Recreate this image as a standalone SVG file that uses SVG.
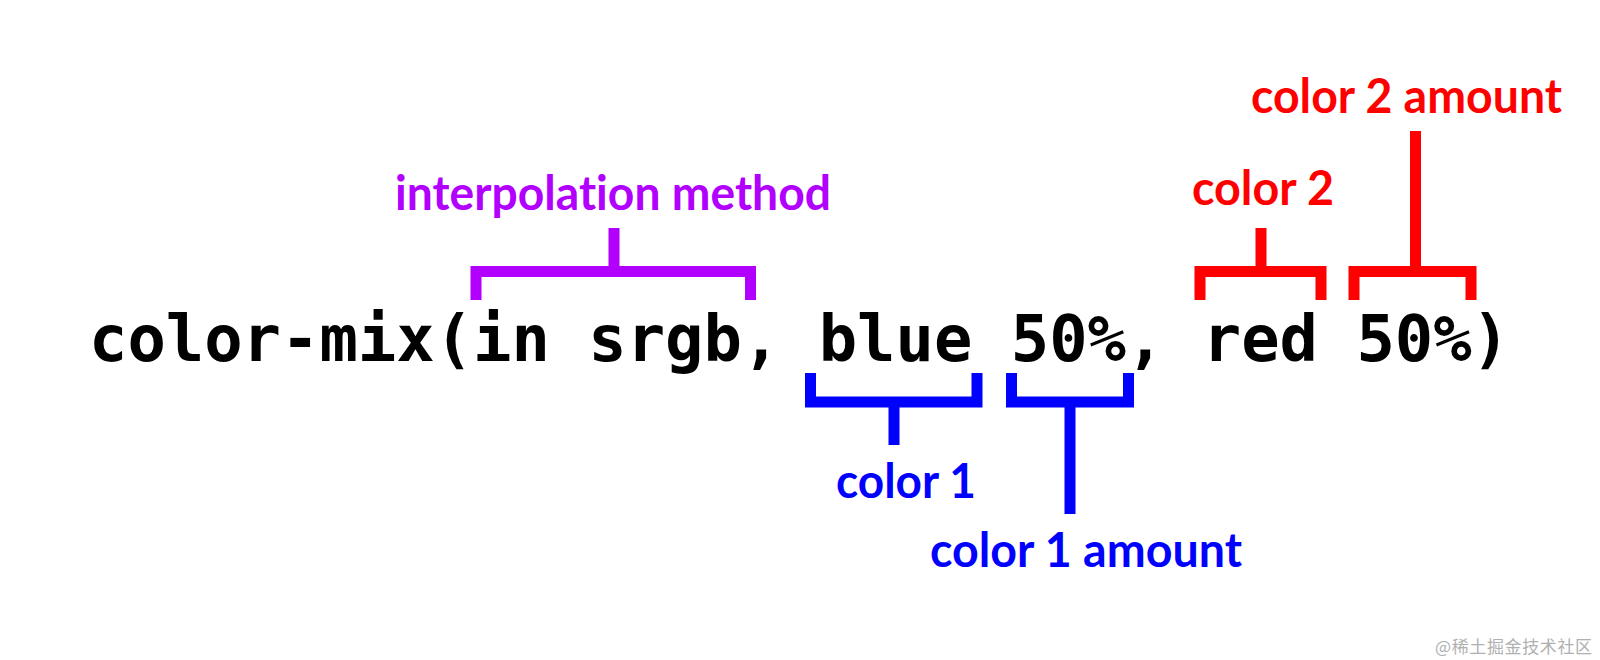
<svg xmlns="http://www.w3.org/2000/svg" width="1600" height="660" viewBox="0 0 1600 660">
<style>
.code{font-family:"DejaVu Sans Mono","Liberation Mono",monospace;font-weight:bold;font-size:64px;fill:#000}
.lbl{font-family:Lato,"Open Sans",sans-serif;font-weight:bold;font-size:48px;font-variant-ligatures:none;font-feature-settings:"liga" 0}
.br{fill:none;stroke-width:11;stroke-linejoin:miter;stroke-linecap:butt}
.purple{stroke:#b200ff}.purpleT{fill:#b200ff}
.red{stroke:#ff0000}.redT{fill:#ff0000}
.blue{stroke:#0000ff}.blueT{fill:#0000ff}
.wm{font-family:"Noto Sans CJK SC",sans-serif;font-size:17px;fill:#b0b0b0}
</style>
<rect width="1600" height="660" fill="#fff"/>
<g id="code"><text class="code" x="89" y="361" textLength="1421" lengthAdjust="spacingAndGlyphs">color-mix(in srgb, blue 50%, red 50%)</text></g>
<g id="connectors">
<path class="br purple" d="M476,300 V271.5 H750.5 V300 M614,271.5 V228"/>
<path class="br red" d="M1200,300 V271.5 H1321 V300 M1261,271.5 V228"/>
<path class="br red" d="M1354,300 V271.5 H1471 V300 M1415.5,271.5 V131"/>
<path class="br blue" d="M810.5,373 V402 H977 V373 M894,402 V445"/>
<path class="br blue" d="M1011.5,373 V402 H1128.5 V373 M1070,402 V514"/>
</g>
<g id="interpolation-method"><text class="lbl purpleT" x="395" y="210" textLength="436" lengthAdjust="spacingAndGlyphs">interpolation method</text></g>
<g id="color-2"><text class="lbl redT" x="1192" y="205" textLength="142" lengthAdjust="spacingAndGlyphs">color 2</text></g>
<g id="color-2-amount"><text class="lbl redT" x="1251" y="113" textLength="311" lengthAdjust="spacingAndGlyphs">color 2 amount</text></g>
<g id="color-1"><text class="lbl blueT" x="836" y="498" textLength="140" lengthAdjust="spacingAndGlyphs">color 1</text></g>
<g id="color-1-amount"><text class="lbl blueT" x="930" y="567" textLength="312" lengthAdjust="spacingAndGlyphs">color 1 amount</text></g>
<text class="wm" x="1435" y="653" textLength="157">@稀土掘金技术社区</text>
</svg>
